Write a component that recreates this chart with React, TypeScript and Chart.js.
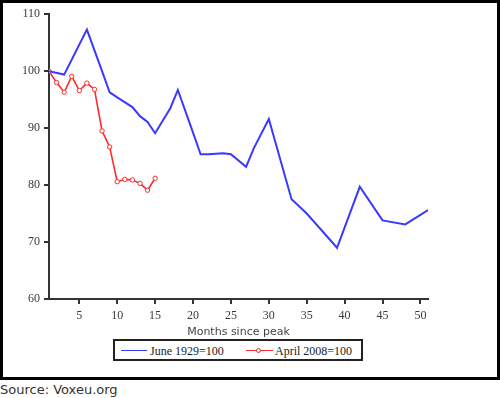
import React, { useEffect, useRef } from 'react';
import { Chart, registerables } from 'chart.js';

Chart.register(...registerables);

// Data
const months1929 = [1, 3, 6, 8, 9, 10, 12, 13, 14, 15, 17, 18, 20, 21, 22, 24, 25, 27, 28, 30, 33, 35, 39, 42, 45, 48, 51];
const values1929 = [100, 99.4, 107.3, 100, 96.3, 95.4, 93.7, 92.1, 91.1, 89.1, 93.5, 96.7, 89.2, 85.4, 85.4, 85.6, 85.4, 83.2, 86.4, 91.6, 77.5, 75.0, 69.0, 79.7, 73.8, 73.1, 75.6];

const months2008 = [1, 2, 3, 4, 5, 6, 7, 8, 9, 10, 11, 12, 13, 14, 15];
const values2008 = [100, 98.0, 96.3, 99.1, 96.6, 97.9, 96.8, 89.5, 86.7, 80.6, 81.0, 80.9, 80.3, 79.1, 81.2];

const xTickValues = [5, 10, 15, 20, 25, 30, 35, 40, 45, 50];
const yTickValues = [60, 70, 80, 90, 100, 110];

const label1929 = 'June 1929=100';
const label2008 = 'April 2008=100';
const xTitle = 'Months since peak';
const sourceText = 'Source: Voxeu.org';

const BLUE = '#3a3aff';
const RED = '#ff2b2b';
const AXIS = '#333333';

export default function App() {
  const canvasRef = useRef<HTMLCanvasElement | null>(null);

  useEffect(() => {
    const canvas = canvasRef.current;
    if (!canvas) return;
    const chart = new Chart(canvas, {
      type: 'line',
      data: {
        datasets: [
          {
            label: label1929,
            data: months1929.map((m, i) => ({ x: m, y: values1929[i] })),
            borderColor: BLUE,
            backgroundColor: BLUE,
            borderWidth: 2,
            pointRadius: 0,
            tension: 0,
          },
          {
            label: label2008,
            data: months2008.map((m, i) => ({ x: m, y: values2008[i] })),
            borderColor: RED,
            backgroundColor: '#ffffff',
            borderWidth: 1.6,
            pointRadius: 2.2,
            pointBorderWidth: 1,
            pointBackgroundColor: '#ffffff',
            pointBorderColor: RED,
            tension: 0,
          },
        ],
      },
      options: {
        animation: false,
        responsive: false,
        maintainAspectRatio: false,
        layout: { padding: { left: 0, right: 69, top: 11, bottom: 38 } },
        plugins: {
          legend: { display: false },
          tooltip: { enabled: false },
        },
        scales: {
          x: {
            type: 'linear',
            min: 1,
            max: 51,
            afterBuildTicks: (s: any) => {
              s.ticks = xTickValues.map((v) => ({ value: v }));
            },
            afterFit: (s: any) => {
              s.height = 40;
            },
            grid: {
              drawOnChartArea: false,
              drawTicks: true,
              tickLength: 5,
              color: AXIS,
              lineWidth: 2,
            },
            border: { display: true, color: AXIS, width: 2 },
            ticks: {
              font: { family: 'Liberation Serif', size: 12 },
              color: '#3a3a3a',
              padding: 5,
              maxRotation: 0,
              autoSkip: false,
            },
            title: {
              display: true,
              text: xTitle,
              font: { family: 'DejaVu Sans', size: 11 },
              color: '#444444',
              padding: 0,
            },
          },
          y: {
            type: 'linear',
            min: 60,
            max: 110,
            afterBuildTicks: (s: any) => {
              s.ticks = yTickValues.map((v) => ({ value: v }));
            },
            afterFit: (s: any) => {
              s.width = 46;
            },
            grid: {
              drawOnChartArea: false,
              drawTicks: true,
              tickLength: 5,
              color: AXIS,
              lineWidth: 2,
            },
            border: { display: true, color: AXIS, width: 2 },
            ticks: {
              font: { family: 'Liberation Serif', size: 12 },
              color: '#3a3a3a',
              padding: 4,
            },
          },
        },
      },
    });
    return () => chart.destroy();
  }, []);

  const legendText: React.CSSProperties = {
    fontFamily: '"Liberation Serif", serif',
    fontSize: 12,
    color: '#222',
    position: 'absolute',
    top: 3,
    whiteSpace: 'nowrap',
    lineHeight: '14px',
  };

  return (
    <div style={{ position: 'absolute', left: 0, top: 0, width: 500, height: 398, background: '#fff' }}>
      <div
        style={{
          position: 'absolute',
          left: 0,
          top: 0,
          width: 500,
          height: 380,
          border: '3px solid #000',
          boxSizing: 'border-box',
        }}
      >
        <canvas ref={canvasRef} width={494} height={374} style={{ display: 'block', width: 494, height: 374 }} />
      </div>
      <div
        style={{
          position: 'absolute',
          left: 113,
          top: 339,
          width: 250,
          height: 22,
          border: '2px solid #222',
          boxSizing: 'border-box',
          background: '#fff',
        }}
      >
        <div style={{ position: 'absolute', left: 6, top: 9, width: 26, height: 0, borderTop: `1.5px solid ${BLUE}` }} />
        <div style={{ ...legendText, left: 35 }}>{label1929}</div>
        <div style={{ position: 'absolute', left: 131, top: 9, width: 27, height: 0, borderTop: `1.5px solid ${RED}` }} />
        <div
          style={{
            position: 'absolute',
            left: 141,
            top: 6.5,
            width: 5,
            height: 5,
            borderRadius: '50%',
            border: `1px solid ${RED}`,
            background: '#fff',
            boxSizing: 'border-box',
          }}
        />
        <div style={{ ...legendText, left: 160 }}>{label2008}</div>
      </div>
      <div
        style={{
          position: 'absolute',
          left: 0,
          top: 382,
          fontFamily: '"DejaVu Sans", Verdana, sans-serif',
          fontSize: 13,
          lineHeight: '16px',
          color: '#333',
          whiteSpace: 'nowrap',
        }}
      >
        {sourceText}
      </div>
    </div>
  );
}
